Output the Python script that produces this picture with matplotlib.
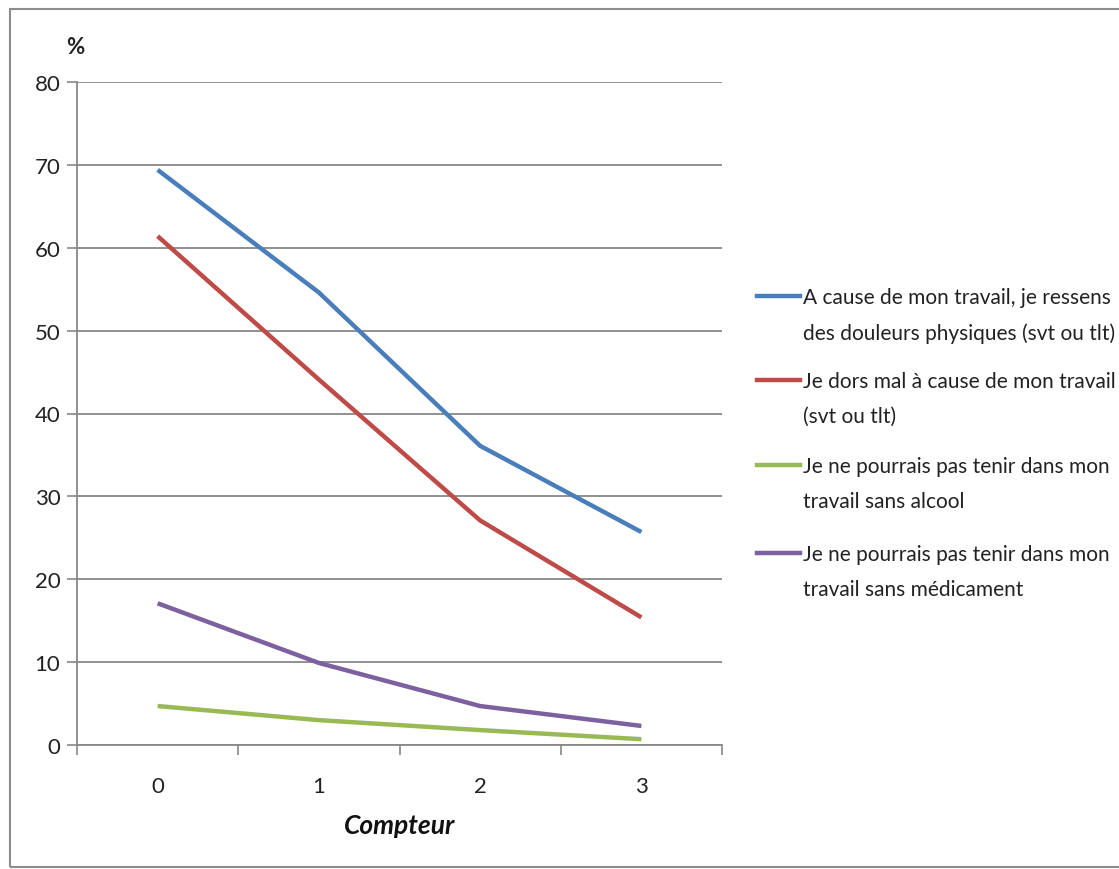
import matplotlib
matplotlib.use("Agg")
import matplotlib.pyplot as plt
from matplotlib.patches import Rectangle
from matplotlib.lines import Line2D

plt.rcParams['font.family'] = ['Lato', 'DejaVu Sans']

categories = ["0", "1", "2", "3"]
douleurs = [69.4, 54.6, 36.1, 25.7]
dors_mal = [61.4, 44.1, 27.1, 15.4]
alcool = [4.7, 3.0, 1.8, 0.7]
medicament = [17.1, 9.9, 4.7, 2.3]
labels = [
    "A cause de mon travail, je ressens\ndes douleurs physiques (svt ou tlt)",
    "Je dors mal à cause de mon travail\n(svt ou tlt)",
    "Je ne pourrais pas tenir dans mon\ntravail sans alcool",
    "Je ne pourrais pas tenir dans mon\ntravail sans médicament",
]
colors = ["#4A7EBB", "#BE4B48", "#98B954", "#7D60A0"]
series = [douleurs, dors_mal, alcool, medicament]

W, H = 1119, 870
fig = plt.figure(figsize=(W/100, H/100), dpi=100)
fig.patches.append(Rectangle((10/W, 2/H), 1.2, 858/H, transform=fig.transFigure,
                             fill=False, edgecolor="#8c8c8c", linewidth=1.5))
ax = fig.add_axes([77/W, 1-746/H, (722-77)/W, (746-83)/H])

x = list(range(len(categories)))
for s, c, l in zip(series, colors, labels):
    ax.plot(x, s, color=c, linewidth=3.2, label=l, solid_capstyle='butt')

ax.set_xlim(-0.5, 3.5)
ax.set_ylim(0, 80)
ax.set_yticks(range(0, 81, 10))
ax.set_xticks(x)
ax.set_xticklabels(categories)
ax.set_xticks([-0.5, 0.5, 1.5, 2.5, 3.5], minor=True)
ax.tick_params(axis='x', which='major', length=0, pad=22, labelsize=16, labelcolor="#222222")
ax.tick_params(axis='x', which='minor', length=7, color="#888888", width=1.2, direction='out')
ax.tick_params(axis='y', length=7, color="#888888", width=1.2, labelsize=16, labelcolor="#222222", pad=5)
ax.grid(axis='y', color="#888888", linewidth=1.3)
ax.set_axisbelow(True)
for sp in ['top', 'right']:
    ax.spines[sp].set_visible(False)
for sp in ['left', 'bottom']:
    ax.spines[sp].set_color("#888888")
    ax.spines[sp].set_linewidth(1.3)

fig.text(75/W, 1-47/H, "%", fontsize=16, fontweight='bold', ha='center', va='center', color="#222222")
fig.text(400/W, 1-826/H, "Compteur", fontsize=19, fontweight='bold', fontstyle='italic',
         ha='center', va='center', color="#111111")

# manual legend: handle aligned with first text line
first_line_y = [297, 381, 466, 554]
for yy, c, l in zip(first_line_y, colors, labels):
    fig.add_artist(Line2D([757/W, 800/W], [1-yy/H, 1-yy/H], color=c, linewidth=3.2,
                          transform=fig.transFigure))
    fig.text(803/W, 1-(yy-9)/H, l, fontsize=15, ha='left', va='top', linespacing=1.95,
             color="#222222")

fig.savefig("out.png", dpi=100)
